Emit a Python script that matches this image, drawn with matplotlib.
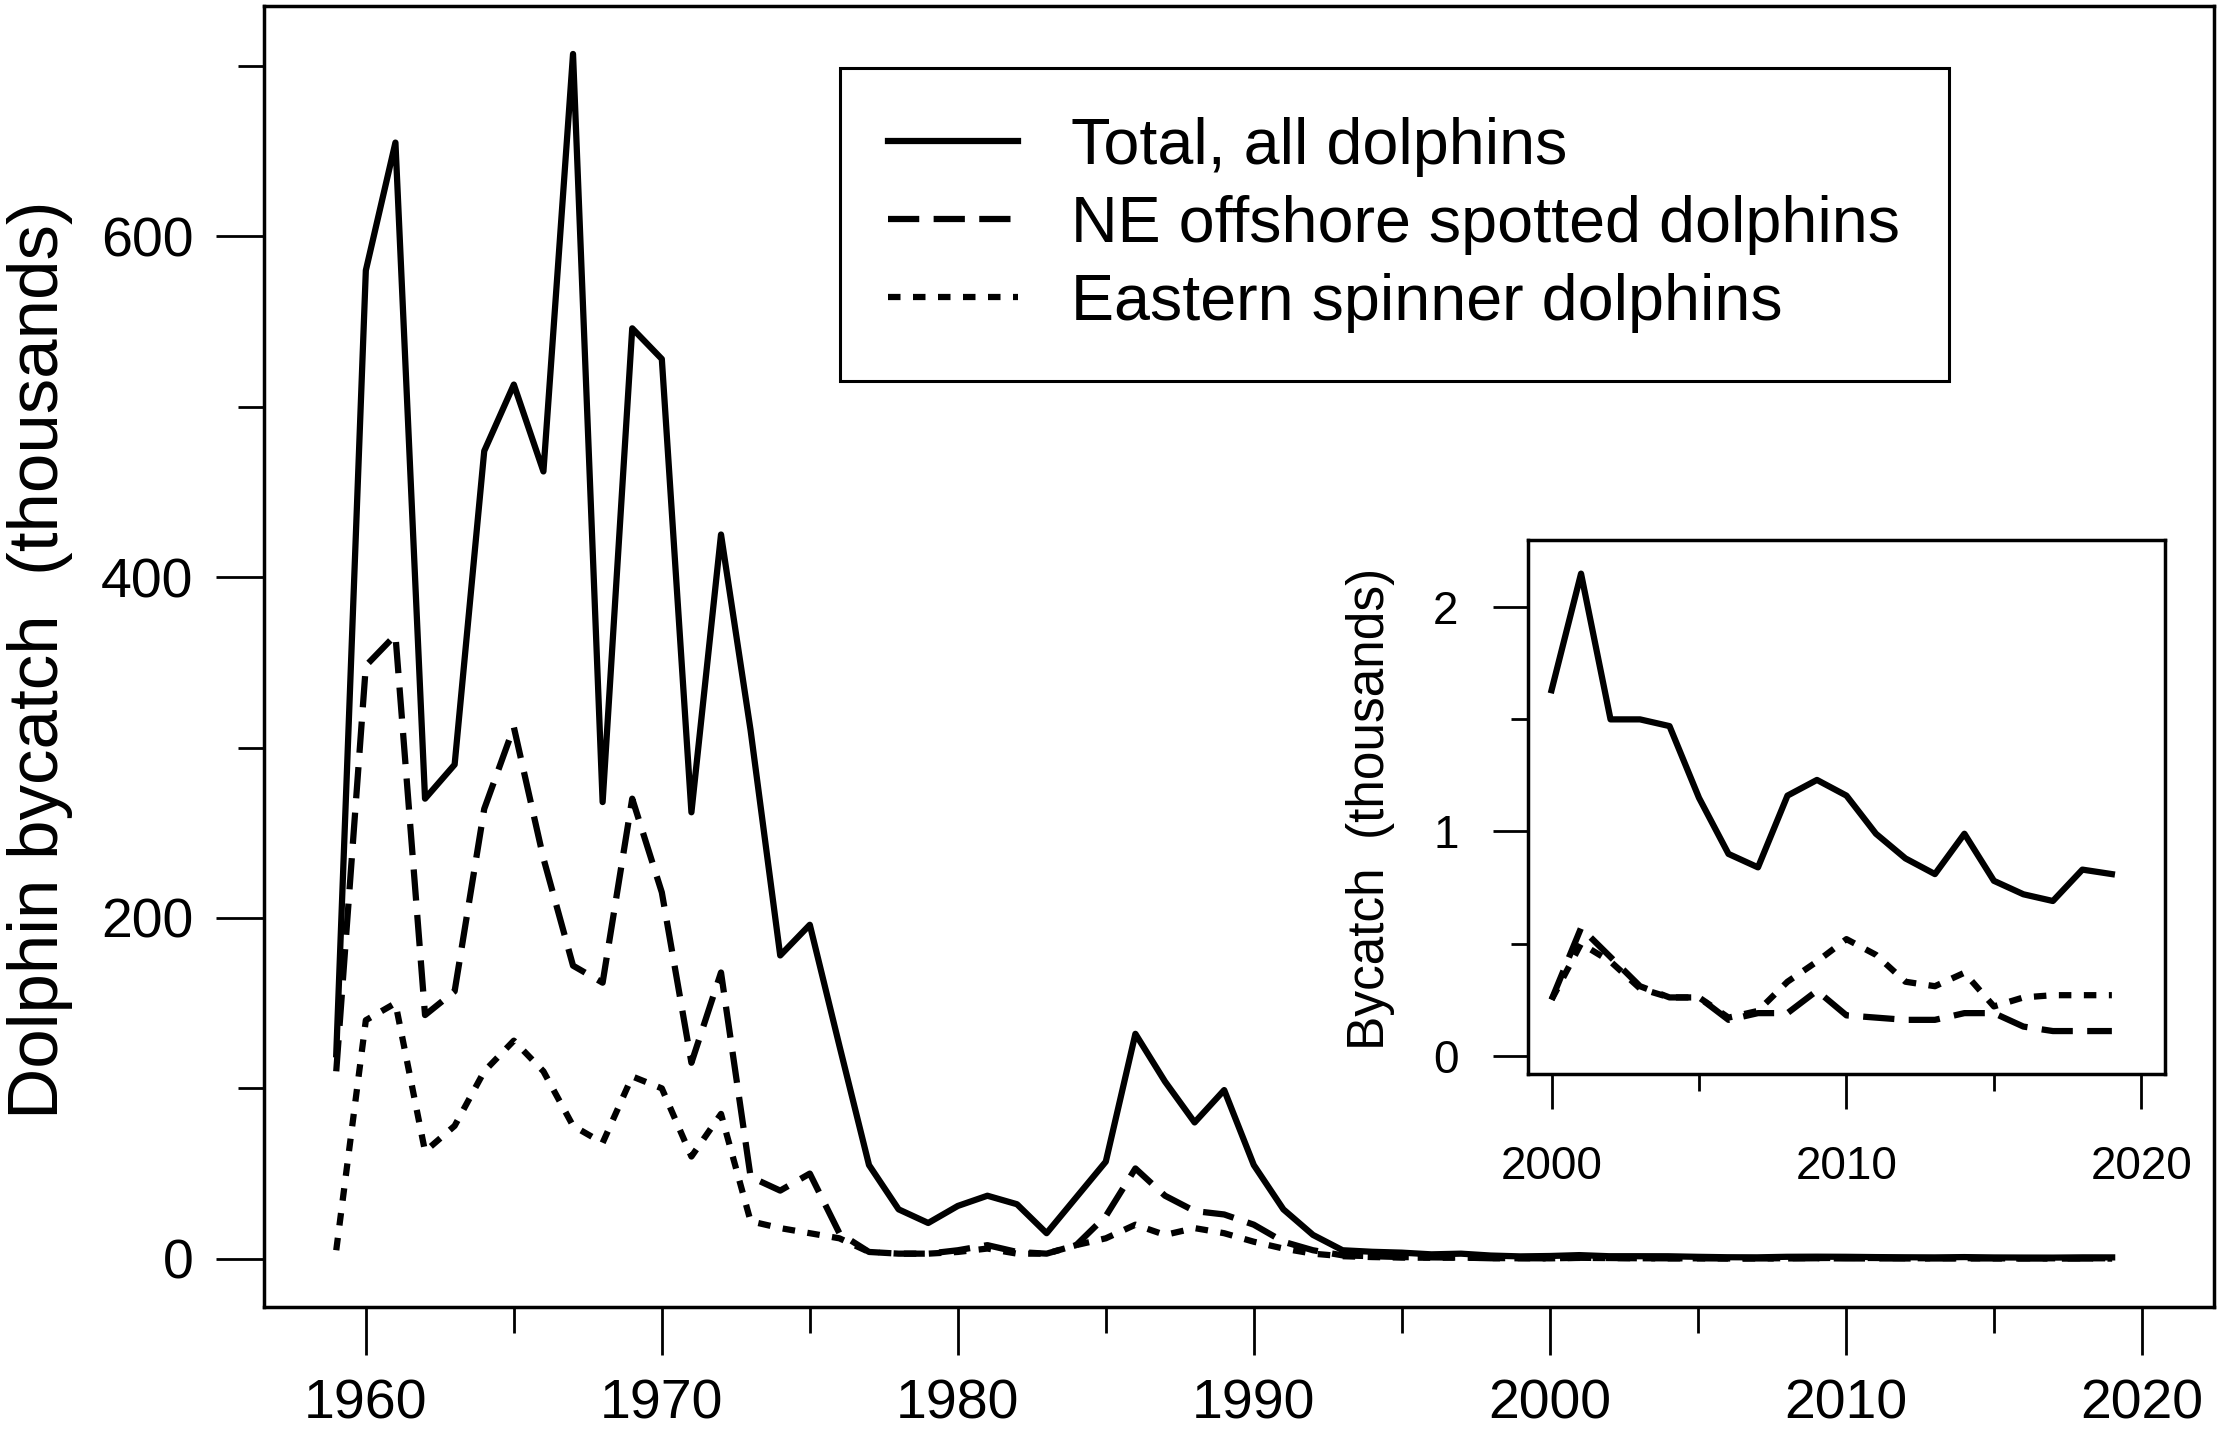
import matplotlib
matplotlib.use("Agg")
import matplotlib.pyplot as plt

plt.rcParams["font.family"] = ["Liberation Sans", "DejaVu Sans"]

# main panel: bycatch in thousands, 1959-1999
years_early = list(range(1959, 2000))
total_early = [120, 580, 655, 270, 290, 474, 513, 462, 707, 268,
               546, 528, 262, 425, 310, 178, 196, 125, 55, 29,
               21, 31, 37, 32, 15, 36, 57, 132, 104, 80,
               99, 55, 29, 14, 5, 4.1, 3.6, 2.6, 3.0, 1.9, 1.4]
spotted_early = [110, 348, 366, 143, 157, 264, 312, 235, 172, 162,
                 270, 215, 115, 168, 48, 40, 50, 15, 4, 3,
                 3, 5, 8, 4, 3, 8, 25, 53, 37, 28,
                 26, 20, 10, 5, 2, 1.5, 1.0, 0.8, 0.7, 0.3, 0.3]
spinner_early = [5, 140, 150, 63, 78, 110, 128, 110, 78, 68,
                 107, 100, 60, 85, 22, 18, 15, 12, 4, 3,
                 3, 4, 6, 3, 3, 8, 12, 20, 14, 18,
                 15, 10, 6, 3, 1.5, 1.0, 0.7, 0.6, 0.7, 0.4, 0.35]

# inset: 2000-2019
years_late = list(range(2000, 2020))
total_late = [1.63, 2.15, 1.50, 1.50, 1.47, 1.15, 0.90, 0.84, 1.16, 1.23,
              1.16, 0.99, 0.88, 0.81, 0.99, 0.78, 0.72, 0.69, 0.83, 0.81]
spotted_late = [0.25, 0.57, 0.44, 0.31, 0.26, 0.26, 0.16, 0.19, 0.19, 0.29,
                0.18, 0.17, 0.16, 0.16, 0.19, 0.19, 0.13, 0.11, 0.11, 0.11]
spinner_late = [0.25, 0.50, 0.42, 0.30, 0.26, 0.26, 0.17, 0.20, 0.33, 0.42,
                0.52, 0.45, 0.33, 0.31, 0.37, 0.22, 0.26, 0.27, 0.27, 0.27]

labels = ["Total, all dolphins", "NE offshore spotted dolphins",
          "Eastern spinner dolphins"]

years = years_early + years_late
total = total_early + total_late
spotted = spotted_early + spotted_late
spinner = spinner_early + spinner_late

LW = 4.5
DASH = (0, (5.0, 2.3))
DOT = (0, (2.0, 2.0))

fig = plt.figure(figsize=(22.28, 14.35), dpi=100)

# ---- main axes
ax = fig.add_axes([0.1185, 0.0892, 0.8752, 0.9068])
ax.plot(years, total, color="black", lw=LW, label=labels[0])
ax.plot(years, spotted, color="black", lw=LW, linestyle=DASH, label=labels[1])
ax.plot(years, spinner, color="black", lw=LW, linestyle=DOT, label=labels[2])

ax.set_xlim(1956.56, 2022.44)
ax.set_ylim(-28.3, 735.3)
ax.set_xticks(range(1960, 2021, 10))
ax.set_xticks(range(1965, 2020, 10), minor=True)
ax.set_yticks([0, 200, 400, 600])
ax.set_yticks([100, 300, 500, 700], minor=True)
ax.tick_params(which="both", direction="out", width=2, colors="black")
ax.tick_params(which="major", length=34.5, labelsize=40)
ax.tick_params(which="minor", length=19)
ax.tick_params(axis="x", which="major", pad=17)
ax.tick_params(axis="y", which="major", pad=16.5)
for s in ax.spines.values():
    s.set_linewidth(2.5)

fig.text(0.0178, 0.540, "Dolphin bycatch  (thousands)", rotation=90,
         fontsize=51, ha="center", va="center")

leg = ax.legend(loc="upper left", bbox_to_anchor=(0.377, 0.9523),
                bbox_transform=fig.transFigure, fontsize=46.5,
                frameon=True, fancybox=False, edgecolor="black",
                framealpha=1, borderpad=0.75, handlelength=2.0,
                handletextpad=0.83, labelspacing=0.28, borderaxespad=0)
leg.get_frame().set_linewidth(2.2)

# ---- inset axes
ax2 = fig.add_axes([0.6858, 0.2518, 0.2859, 0.3719])
ax2.set_facecolor("white")
ax2.plot(years_late, total_late, color="black", lw=LW)
ax2.plot(years_late, spotted_late, color="black", lw=LW, linestyle=DASH)
ax2.plot(years_late, spinner_late, color="black", lw=LW, linestyle=DOT)

ax2.set_xlim(1999.2, 2020.8)
ax2.set_ylim(-0.08, 2.30)
ax2.set_xticks([2000, 2010, 2020])
ax2.set_xticks([2005, 2015], minor=True)
ax2.set_yticks([0, 1, 2])
ax2.set_yticks([0.5, 1.5], minor=True)
ax2.tick_params(which="both", direction="out", width=2, colors="black")
ax2.tick_params(which="major", length=25, labelsize=33)
ax2.tick_params(which="minor", length=12)
ax2.tick_params(axis="x", which="major", pad=26)
ax2.tick_params(axis="y", which="major", pad=25)
for s in ax2.spines.values():
    s.set_linewidth(2.5)

fig.text(0.615, 0.4362, "Bycatch  (thousands)", rotation=90,
         fontsize=37, ha="center", va="center")

fig.savefig("out.png", dpi=100, facecolor="white")
